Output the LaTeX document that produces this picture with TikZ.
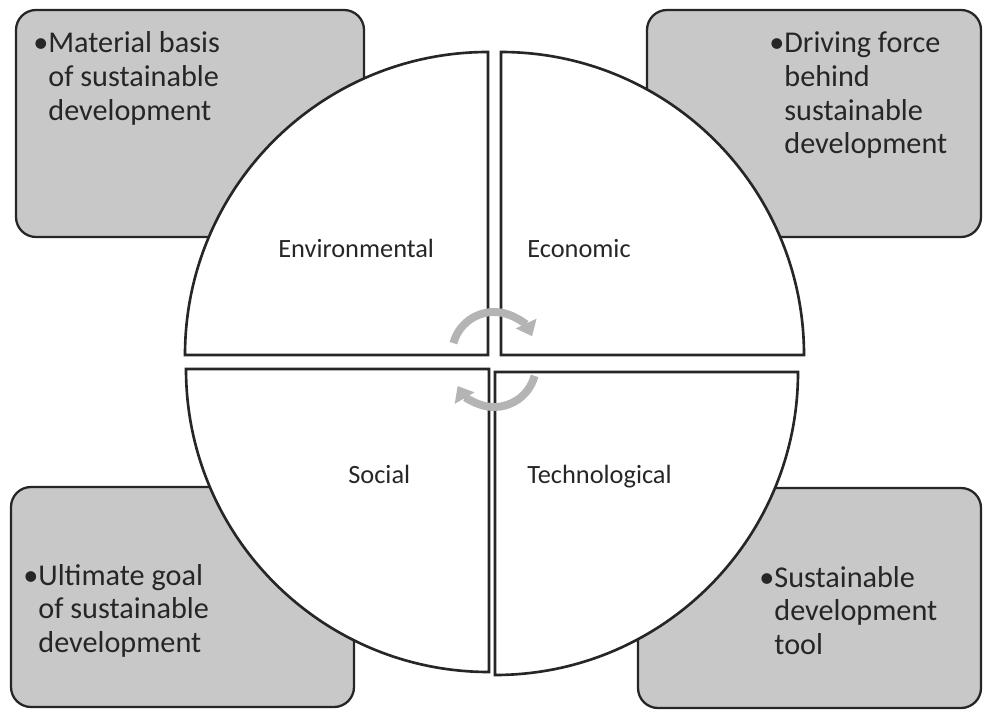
\documentclass[tikz,border=0pt]{standalone}
\usepackage{fontspec}
\setmainfont{Carlito}
\usepackage{xcolor}
\usepackage{tikz}
\usetikzlibrary{arrows.meta}

\definecolor{boxgray}{HTML}{C8C8C8}
\definecolor{arrowgray}{HTML}{B4B4B4}
\definecolor{inkgray}{HTML}{262626}

\tikzset{
  infobox/.style={draw=inkgray, fill=boxgray, line width=1.3pt, rounded corners=0.4cm},
  quarter/.style={draw=inkgray, fill=white, line width=1.5pt},
  turnarrow/.style={arrowgray, line width=4.5pt, -{Triangle[width=0.44cm, length=0.28cm]}},
  infotext/.style={anchor=base west, inner sep=0pt, text=inkgray, font=\fontsize{17.2}{19.1}\selectfont},
  quarterlabel/.style={anchor=base west, inner sep=0pt, text=inkgray, font=\fontsize{15}{17}\selectfont}
}

\newcommand{\bulletlines}[1]{\begin{tabular}[t]{@{}l@{}l@{}}\textbullet & #1\end{tabular}}

\begin{document}
\begin{tikzpicture}[x=0.02cm, y=0.02cm]
\useasboundingbox (0, 0) rectangle (983, 711);
\draw [infobox] (16, 474) rectangle (364, 701);
\draw [infobox] (647, 474) rectangle (981, 701);
\draw [infobox] (11, 4) rectangle (354, 224);
\draw [infobox] (638, 3) rectangle (981, 223);
\draw [quarter] (488, 356) -- (185, 356) arc [start angle=180, end angle=90, radius=303] -- cycle;
\draw [quarter] (501, 356) -- (501, 659) arc [start angle=90, end angle=0, radius=303] -- cycle;
\draw [quarter] (489, 342) -- (186, 342) arc [start angle=180, end angle=270, radius=303] -- cycle;
\draw [quarter] (495, 339) -- (798, 339) arc [start angle=0, end angle=-90, radius=303] -- cycle;
\draw [turnarrow] (494, 357) ++ (165:42) arc [start angle=165, end angle=25, radius=42];
\draw [turnarrow] (494, 346) ++ (-15:42) arc [start angle=-15, end angle=-150, radius=42];
\node [quarterlabel] (Q1) at (278, 454) {Environmental};
\node [quarterlabel] (Q2) at (527, 454) {Economic};
\node [quarterlabel] (Q3) at (348, 228) {Social};
\node [quarterlabel] (Q4) at (527, 228) {Technological};
\node [infotext] (T1) at (33, 658) {\bulletlines{Material basis\\ & of sustainable\\ & development}};
\node [infotext] (T2) at (769, 658) {\bulletlines{Driving force\\ & behind\\ & sustainable\\ & development}};
\node [infotext] (T3) at (23, 126) {\bulletlines{Ultimate goal\\ & of sustainable\\ & development}};
\node [infotext] (T4) at (759, 124) {\bulletlines{Sustainable\\ & development\\ & tool}};
\end{tikzpicture}
\end{document}
